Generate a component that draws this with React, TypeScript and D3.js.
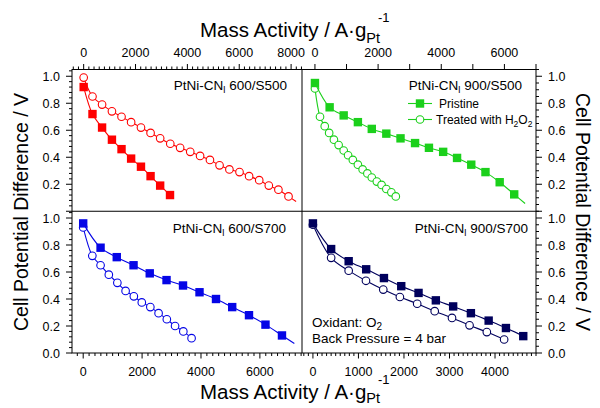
import React from "react";
import * as d3 from "d3";

// Mass activity (A·gPt^-1) vs. cell voltage (V), pristine and H2O2-treated catalysts
// PtNi-CNl 600/S500
const tlPristineMA = [0, 340, 710, 1090, 1460, 1830, 2210, 2580, 2950, 3330];
const tlPristineV = [0.92, 0.72, 0.62, 0.53, 0.46, 0.39, 0.33, 0.26, 0.19, 0.12];
const tlTreatedMA = [0, 340, 710, 1090, 1460, 1830, 2210, 2580, 2950, 3340, 3720, 4110, 4490, 4870, 5240, 5620, 6010, 6380, 6770, 7140, 7510, 7900];
const tlTreatedV = [0.99, 0.85, 0.79, 0.74, 0.7, 0.66, 0.62, 0.58, 0.54, 0.5, 0.47, 0.44, 0.41, 0.38, 0.34, 0.31, 0.29, 0.26, 0.23, 0.19, 0.16, 0.11];
// PtNi-CNl 900/S500
const trPristineMA = [0, 465, 910, 1360, 1800, 2260, 2710, 3170, 3610, 4060, 4500, 4950, 5400, 5850, 6310];
const trPristineV = [0.95, 0.77, 0.71, 0.66, 0.61, 0.575, 0.54, 0.505, 0.47, 0.44, 0.395, 0.345, 0.29, 0.215, 0.125];
const trTreatedMA = [0, 160, 310, 450, 600, 750, 910, 1050, 1200, 1360, 1510, 1660, 1800, 1960, 2110, 2260, 2420, 2560];
const trTreatedV = [0.91, 0.7, 0.63, 0.58, 0.53, 0.49, 0.45, 0.415, 0.38, 0.345, 0.31, 0.28, 0.25, 0.22, 0.195, 0.165, 0.14, 0.11];
// PtNi-CNl 600/S700
const blPristineMA = [0, 590, 1140, 1710, 2260, 2830, 3390, 3950, 4510, 5060, 5630, 6190, 6750];
const blPristineV = [0.96, 0.78, 0.71, 0.65, 0.59, 0.54, 0.5, 0.45, 0.4, 0.34, 0.28, 0.21, 0.13];
const blTreatedMA = [0, 310, 590, 870, 1160, 1440, 1720, 1990, 2280, 2560, 2840, 3120, 3400, 3680];
const blTreatedV = [0.93, 0.72, 0.65, 0.58, 0.52, 0.46, 0.42, 0.375, 0.34, 0.295, 0.25, 0.2, 0.16, 0.11];
// PtNi-CNl 900/S700
const brPristineMA = [0, 400, 785, 1170, 1560, 1940, 2320, 2700, 3080, 3470, 3860, 4240, 4620];
const brPristineV = [0.96, 0.77, 0.68, 0.62, 0.555, 0.495, 0.445, 0.39, 0.345, 0.295, 0.24, 0.185, 0.125];
const brTreatedMA = [0, 400, 785, 1165, 1545, 1910, 2290, 2675, 3055, 3440, 3820, 4200];
const brTreatedV = [0.95, 0.705, 0.61, 0.535, 0.47, 0.415, 0.365, 0.31, 0.26, 0.205, 0.155, 0.1];

// Axis tick labels
const tlTicks = [0, 2000, 4000, 6000, 8000];
const trTicks = [0, 2000, 4000, 6000];
const blTicks = [0, 2000, 4000, 6000];
const brTicks = [0, 1000, 2000, 3000, 4000];
const topVoltTicks = [0.2, 0.4, 0.6, 0.8, 1.0];
const bottomVoltTicks = [0.0, 0.2, 0.4, 0.6, 0.8, 1.0];

const W = 600;
const H = 408;
const L = 72;
const R = 536;
const T = 69.5;
const B = 353;
const MX = 302;
const MY = 211.25;
const FONT = "'Liberation Sans', Arial, Helvetica, sans-serif";

const RED = "#ff0000";
const GREEN = "#1bd01b";
const BLUE = "#0505e6";
const NAVY = "#00005c";

const yTop = d3.scaleLinear().domain([0, 1.05]).range([MY, T]);
const yBot = d3.scaleLinear().domain([0, 1.05]).range([B, MY]);
const xTL = d3.scaleLinear().domain([-450, 8420]).range([L, MX]);
const xTR = d3.scaleLinear().domain([-410, 7000]).range([MX, R]);
const xBL = d3.scaleLinear().domain([-380, 7430]).range([L, MX]);
const xBR = d3.scaleLinear().domain([-240, 4900]).range([MX, R]);

type Scale = d3.ScaleLinear<number, number>;

interface SeriesDef {
  ma: number[];
  v: number[];
  x: Scale;
  y: Scale;
  color: string;
  marker: "square" | "circle";
  tail: boolean;
}

const series: SeriesDef[] = [
  { ma: tlTreatedMA, v: tlTreatedV, x: xTL, y: yTop, color: RED, marker: "circle", tail: true },
  { ma: tlPristineMA, v: tlPristineV, x: xTL, y: yTop, color: RED, marker: "square", tail: false },
  { ma: trTreatedMA, v: trTreatedV, x: xTR, y: yTop, color: GREEN, marker: "circle", tail: false },
  { ma: trPristineMA, v: trPristineV, x: xTR, y: yTop, color: GREEN, marker: "square", tail: true },
  { ma: blTreatedMA, v: blTreatedV, x: xBL, y: yBot, color: BLUE, marker: "circle", tail: false },
  { ma: blPristineMA, v: blPristineV, x: xBL, y: yBot, color: BLUE, marker: "square", tail: true },
  { ma: brTreatedMA, v: brTreatedV, x: xBR, y: yBot, color: NAVY, marker: "circle", tail: false },
  { ma: brPristineMA, v: brPristineV, x: xBR, y: yBot, color: NAVY, marker: "square", tail: false },
];

const smooth = d3.line().curve(d3.curveCatmullRom.alpha(0.5));

function Marker({ cx, cy, color, kind }: { cx: number; cy: number; color: string; kind: string }) {
  if (kind === "square") {
    return <rect x={cx - 4.2} y={cy - 4.2} width={8.4} height={8.4} fill={color} />;
  }
  return <circle cx={cx} cy={cy} r={3.8} fill="#fff" stroke={color} strokeWidth={1.1} />;
}

function Series({ s }: { s: SeriesDef }) {
  const pts: [number, number][] = s.ma.map((m, i) => [s.x(m), s.y(s.v[i])]);
  const linePts = pts.slice();
  if (s.tail) {
    // the fitted curve runs a little past the last measured point
    const a = pts[pts.length - 2];
    const b = pts[pts.length - 1];
    linePts.push([b[0] + (b[0] - a[0]) * 0.75, b[1] + (b[1] - a[1]) * 0.75]);
  }
  return (
    <g>
      <path d={smooth(linePts) || ""} fill="none" stroke={s.color} strokeWidth={1.1} />
      {pts.map((p, i) => (
        <Marker key={i} cx={p[0]} cy={p[1]} color={s.color} kind={s.marker} />
      ))}
    </g>
  );
}

function rangeIn(lo: number, hi: number, step: number) {
  const out: number[] = [];
  const start = Math.ceil(lo / step - 1e-9);
  for (let k = start; k * step <= hi + 1e-9; k++) out.push(+(k * step).toFixed(6));
  return out;
}

function XTicks({ x, side, major, minor }: { x: Scale; side: "top" | "bottom"; major: number; minor: number }) {
  const [lo, hi] = x.domain();
  const y0 = side === "top" ? T : B;
  const dir = side === "top" ? -1 : 1;
  return (
    <g stroke="#000" strokeWidth={1}>
      {rangeIn(lo, hi, minor).map((v) => {
        const isMajor = Math.abs(v / major - Math.round(v / major)) < 1e-6;
        const len = isMajor ? 5.5 : 3;
        return <line key={v} x1={x(v)} x2={x(v)} y1={y0} y2={y0 + dir * len} />;
      })}
    </g>
  );
}

function YTicks({ y, side, minor }: { y: Scale; side: "left" | "right"; minor: number }) {
  const [lo, hi] = y.domain();
  const x0 = side === "left" ? L : R;
  const dir = side === "left" ? -1 : 1;
  return (
    <g stroke="#000" strokeWidth={1}>
      {rangeIn(lo, hi, minor).map((v) => {
        const isMajor = Math.abs(v / 0.2 - Math.round(v / 0.2)) < 1e-6;
        const len = isMajor ? 6 : 3;
        return <line key={v} x1={x0} x2={x0 + dir * len} y1={y(v)} y2={y(v)} />;
      })}
    </g>
  );
}

function PanelLabel({ x, y, name }: { x: number; y: number; name: string }) {
  return (
    <text x={x} y={y} textAnchor="end" fontSize={13.5}>
      PtNi-CN
      <tspan fontSize={9.5} dy={3}>
        l
      </tspan>
      <tspan dy={-3}> {name}</tspan>
    </text>
  );
}

function MassTitle({ y, sub }: { y: number; sub: number }) {
  return (
    <text x={200} y={y} fontSize={20.5}>
      Mass Activity / A·g
      <tspan fontSize={14.5} dy={sub}>
        Pt
      </tspan>
      <tspan fontSize={13} dy={-15 - sub} dx={-2}>
        -1
      </tspan>
    </text>
  );
}

export default function App() {
  const fmtV = d3.format(".1f");
  return (
    <svg
      width={W}
      height={H}
      style={{ position: "absolute", left: 0, top: 0, background: "#fff" }}
      fontFamily={FONT}
    >
      <rect width={W} height={H} fill="#fff" />

      {/* ticks */}
      <XTicks x={xTL} side="top" major={2000} minor={200} />
      <XTicks x={xTR} side="top" major={1000} minor={1000} />
      <XTicks x={xBL} side="bottom" major={2000} minor={200} />
      <XTicks x={xBR} side="bottom" major={1000} minor={100} />
      <YTicks y={yTop} side="left" minor={0.04} />
      <YTicks y={yBot} side="left" minor={0.04} />
      <YTicks y={yTop} side="right" minor={0.05} />
      <YTicks y={yBot} side="right" minor={0.05} />

      {/* frame and panel dividers */}
      <rect x={L} y={T} width={R - L} height={B - T} fill="none" stroke="#000" strokeWidth={1} />
      <line x1={MX} x2={MX} y1={T} y2={B} stroke="#000" strokeWidth={1} />
      <line x1={L} x2={R} y1={MY} y2={MY} stroke="#000" strokeWidth={1} />

      {/* tick labels */}
      <g fontSize={12.5} textAnchor="middle">
        {tlTicks.map((t) => (
          <text key={"tl" + t} x={xTL(t)} y={57}>{t}</text>
        ))}
        {trTicks.map((t) => (
          <text key={"tr" + t} x={xTR(t)} y={57}>{t}</text>
        ))}
        {blTicks.map((t) => (
          <text key={"bl" + t} x={xBL(t)} y={376}>{t}</text>
        ))}
        {brTicks.map((t) => (
          <text key={"br" + t} x={xBR(t)} y={376}>{t}</text>
        ))}
      </g>
      <g fontSize={12.5}>
        {topVoltTicks.map((t) => (
          <text key={"lt" + t} x={60} y={yTop(t)} dy="0.36em" textAnchor="end">{fmtV(t)}</text>
        ))}
        {bottomVoltTicks.map((t) => (
          <text key={"lb" + t} x={60} y={yBot(t)} dy="0.36em" textAnchor="end">{fmtV(t)}</text>
        ))}
        {topVoltTicks.map((t) => (
          <text key={"rt" + t} x={548} y={yTop(t)} dy="0.36em">{fmtV(t)}</text>
        ))}
        {bottomVoltTicks.map((t) => (
          <text key={"rb" + t} x={548} y={yBot(t)} dy="0.36em">{fmtV(t)}</text>
        ))}
      </g>

      {/* axis titles */}
      <MassTitle y={37} sub={6} />
      <MassTitle y={399} sub={4} />
      <text transform="translate(28,212) rotate(-90)" textAnchor="middle" fontSize={19.5}>
        Cell Potential Difference / V
      </text>
      <text transform="translate(576,212) rotate(90)" textAnchor="middle" fontSize={19.5}>
        Cell Potential Difference / V
      </text>

      {/* data */}
      {series.map((s, i) => (
        <Series key={i} s={s} />
      ))}

      {/* panel annotations */}
      <PanelLabel x={287} y={90} name="600/S500" />
      <PanelLabel x={522} y={90} name="900/S500" />
      <PanelLabel x={286} y={233} name="600/S700" />
      <PanelLabel x={528} y={233} name="900/S700" />

      {/* legend */}
      <g fontSize={12}>
        <line x1={408} x2={432} y1={103.5} y2={103.5} stroke={GREEN} strokeWidth={1.1} />
        <Marker cx={420} cy={103.5} color={GREEN} kind="square" />
        <text x={439} y={108}>Pristine</text>
        <line x1={408} x2={432} y1={119.5} y2={119.5} stroke={GREEN} strokeWidth={1.1} />
        <Marker cx={420} cy={119.5} color={GREEN} kind="circle" />
        <text x={436} y={124}>
          Treated with H<tspan fontSize={8.5} dy={3}>2</tspan>
          <tspan dy={-3}>O</tspan>
          <tspan fontSize={8.5} dy={3}>2</tspan>
        </text>
      </g>

      <g fontSize={13.5}>
        <text x={312} y={327}>
          Oxidant: O<tspan fontSize={10} dy={3}>2</tspan>
        </text>
        <text x={312} y={343}>Back Pressure = 4 bar</text>
      </g>
    </svg>
  );
}
